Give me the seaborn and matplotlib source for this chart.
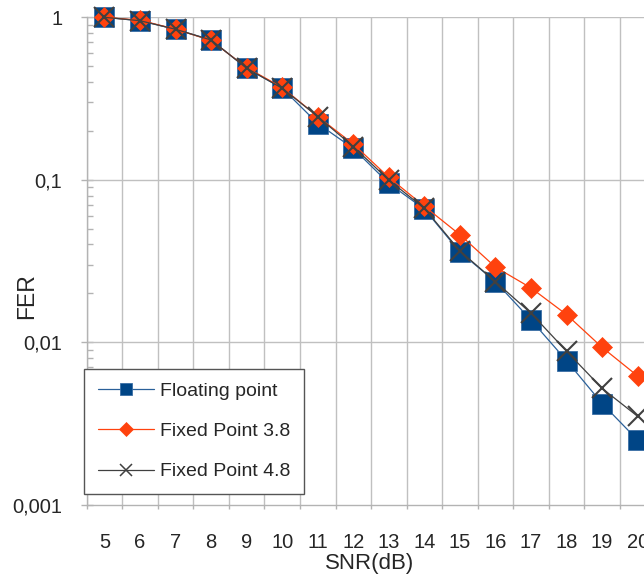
import matplotlib
matplotlib.use("Agg")
import matplotlib.pyplot as plt
from matplotlib.ticker import FixedLocator, LogLocator, NullFormatter, FixedFormatter
from matplotlib.lines import Line2D
import seaborn as sns
import pandas as pd

# SNR points (dB)
snr = [5, 6, 7, 8, 9, 10, 11, 12, 13, 14, 15, 16, 17, 18, 19, 20]

# Frame error rate per decoder arithmetic
fer_float = [1.0, 0.953, 0.844, 0.725, 0.486, 0.366, 0.222, 0.156, 0.095, 0.066,
             0.0359, 0.0236, 0.0137, 0.0077, 0.0042, 0.0025]
fer_fixed_38 = [1.0, 0.96, 0.845, 0.72, 0.49, 0.37, 0.245, 0.166, 0.1035, 0.0687,
                0.0459, 0.0290, 0.0216, 0.0148, 0.0093, 0.0062]
fer_fixed_48 = [1.0, 0.953, 0.844, 0.725, 0.486, 0.366, 0.245, 0.160, 0.0996, 0.0667,
                0.0365, 0.0236, 0.0151, 0.0088, 0.0052, 0.0035]

series_names = ["Floating point", "Fixed Point 3.8", "Fixed Point 4.8"]
y_ticks = [0.001, 0.01, 0.1, 1]
y_tick_labels = ["0,001", "0,01", "0,1", "1"]

df = pd.DataFrame({
    "SNR": snr * 3,
    "FER": fer_float + fer_fixed_38 + fer_fixed_48,
    "series": [series_names[0]] * len(snr) + [series_names[1]] * len(snr)
              + [series_names[2]] * len(snr),
})

sns.set_style("white")
plt.rcParams["font.family"] = ["Liberation Sans", "DejaVu Sans"]

fig = plt.figure(figsize=(6.44, 5.79), dpi=100)
ax = fig.add_axes([0.1346, 0.1282, 0.8832, 0.8419])

styles = {
    series_names[0]: dict(color="#2a6099", marker="s", markersize=14.5,
                          markerfacecolor="#004586", markeredgecolor="#3a6ea5",
                          markeredgewidth=0.6, linewidth=0.9),
    series_names[1]: dict(color="#ff420e", marker="D", markersize=9.8,
                          markerfacecolor="#ff420e", markeredgecolor="#ff420e",
                          markeredgewidth=0.5, linewidth=0.9),
    series_names[2]: dict(color="#404040", marker="x", markersize=15,
                          markeredgecolor="#404040", markeredgewidth=1.5,
                          linewidth=0.9),
}

for i, name in enumerate(series_names):
    sub = df[df["series"] == name]
    sns.lineplot(data=sub, x="SNR", y="FER", ax=ax, legend=False,
                 zorder=3 + i, clip_on=False, **styles[name])

ax.set_yscale("log")
ax.set_ylim(0.001, 1)
ax.set_xlim(4.5, 20.5)

# y axis: decades with labels, minor log ticks on the spine
ax.yaxis.set_major_locator(FixedLocator(y_ticks))
ax.yaxis.set_major_formatter(FixedFormatter(y_tick_labels))
ax.yaxis.set_minor_locator(LogLocator(base=10, subs=range(2, 10)))
ax.yaxis.set_minor_formatter(NullFormatter())
ax.tick_params(axis="y", which="major", direction="inout", length=8.6, width=1,
               color="#b3b3b3", labelsize=14.5, pad=13.3, left=True)
ax.tick_params(axis="y", which="minor", direction="in", length=4, width=1,
               color="#b3b3b3", left=True)

# x axis: category labels centred, grid on category boundaries
ax.set_xticks(snr)
ax.set_xticklabels([str(v) for v in snr])
ax.xaxis.set_minor_locator(FixedLocator([v + 0.5 for v in [4] + snr]))
ax.tick_params(axis="x", which="major", length=0, labelsize=14.5, pad=20.5)
ax.tick_params(axis="x", which="minor", direction="out", length=3, width=1,
               color="#b3b3b3", bottom=True)

ax.grid(False)
for b in [v + 0.5 for v in [4] + snr]:
    ax.axvline(b, color="#c0c0c0", linewidth=1, zorder=1)
for t in y_ticks[1:]:
    ax.axhline(t, color="#c0c0c0", linewidth=1, zorder=1)

for side in ["top", "right"]:
    ax.spines[side].set_visible(False)
for side in ["left", "bottom"]:
    ax.spines[side].set_color("#b3b3b3")
    ax.spines[side].set_linewidth(1)

ax.set_xlabel("SNR(dB)", fontsize=16)
ax.set_ylabel("FER", fontsize=16.5)
ax.yaxis.set_label_coords(-0.086, 0.428)
ax.xaxis.set_label_coords(0.498, -0.0985)

handles = [Line2D([], [], **styles[n]) for n in series_names]
handles[0].set_markersize(9)
handles[1].set_markersize(6.8)
handles[2].set_markersize(8.5)
handles[2].set_markeredgewidth(1.1)
leg = ax.legend(handles, series_names, loc="lower left",
                bbox_to_anchor=(-0.0047, 0.022), fontsize=14, frameon=True,
                fancybox=False, edgecolor="#555555", framealpha=1,
                handlelength=2.89, handletextpad=0.31, labelspacing=1.16,
                borderpad=0.7, borderaxespad=0)
leg.get_frame().set_linewidth(1)
leg.set_zorder(10)

fig.savefig("out.png", dpi=100, facecolor="white")
